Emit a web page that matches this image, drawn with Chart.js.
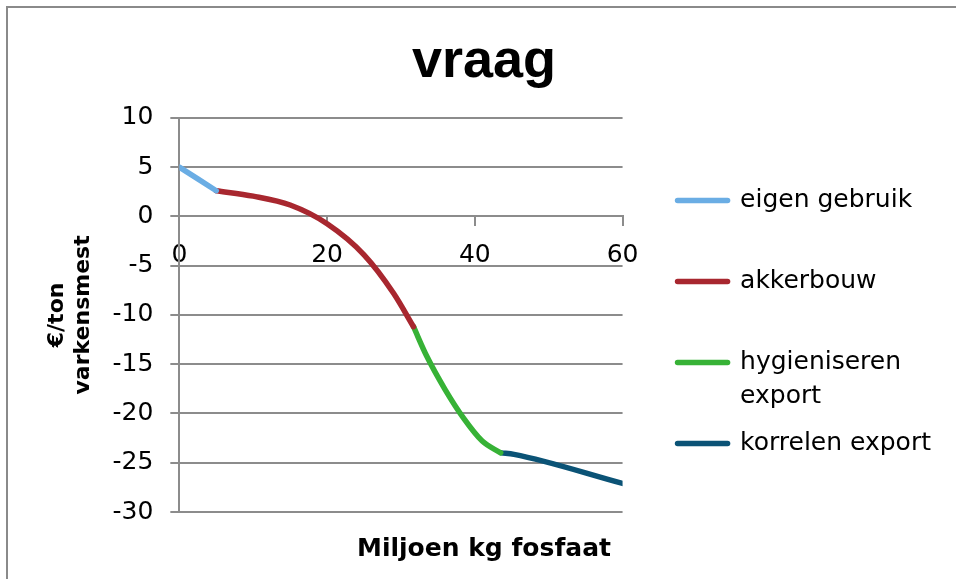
<!DOCTYPE html>
<html>
<head>
<meta charset="utf-8">
<script src="https://cdn.jsdelivr.net/npm/chart.js@4.4.1/dist/chart.umd.min.js"></script>
<style>
  body { margin: 0; background: #fff; }
  #frame {
    position: absolute; left: 6px; top: 6px; width: 950px; height: 573px;
    border-left: 2px solid #8a8a8a; border-top: 2px solid #8a8a8a; box-sizing: border-box;
  }
</style>
</head>
<body>
<div id="frame"><canvas id="vraagChart" width="948" height="571"></canvas></div>
<script>
// series (x = miljoen kg fosfaat, y = euro per ton varkensmest)
var eigenX = [0, 5];
var eigenY = [5, 2.6];
var akkerX = [5, 10, 15, 20, 25, 29, 31.7];
var akkerY = [2.6, 2.05, 1.15, -0.75, -3.9, -7.8, -11.2];
var hygX = [31.7, 33.5, 36, 38.5, 41, 43.5];
var hygY = [-11.2, -14.2, -17.6, -20.5, -22.8, -24.0];
var korrelX = [43.6, 45.3, 60];
var korrelY = [-24.0, -24.15, -27.1];

var seriesLabels = ['eigen gebruik', 'akkerbouw', 'hygieniseren export', 'korrelen export'];
var legendLines = [['eigen gebruik', ''], ['akkerbouw', ''], ['hygieniseren', 'export'], ['korrelen export', '']];
var seriesColors = ['#6aade4', '#a8272f', '#37b236', '#0b5376'];

var xTicks = [0, 20, 40, 60];
var yTicks = [10, 5, 0, -5, -10, -15, -20, -25, -30];

var gridColor = '#8c8c8c';

function points(xs, ys) {
    return xs.map(function(x, i) { return {x: x, y: ys[i]}; });
}

function makeSet(i, xs, ys) {
    return {
        label: seriesLabels[i],
        data: points(xs, ys),
        borderColor: seriesColors[i],
        backgroundColor: seriesColors[i],
        borderWidth: 5.5,
        borderCapStyle: 'round',
        pointRadius: 0,
        cubicInterpolationMode: 'monotone',
        fill: false
    };
}

Chart.defaults.color = '#000';
Chart.defaults.font.family = '"DejaVu Sans", Verdana, sans-serif';

var ctx = document.getElementById('vraagChart').getContext('2d');

var chart = new Chart(ctx, {
    type: 'line',
    data: {
        datasets: [
            makeSet(0, eigenX, eigenY),
            makeSet(1, akkerX, akkerY),
            makeSet(2, hygX, hygY),
            makeSet(3, korrelX, korrelY)
        ]
    },
    options: {
        responsive: false,
        animation: false,
        layout: {
            padding: {left: 19, right: 15, top: 0, bottom: 0}
        },
        scales: {
            x: {
                type: 'linear',
                position: {y: 0},
                min: 0,
                max: 60,
                afterBuildTicks: function(s) {
                    s.ticks = xTicks.map(function(v) { return {value: v}; });
                },
                grid: {drawOnChartArea: false, drawTicks: true, tickLength: 9, color: gridColor, lineWidth: 2},
                border: {display: true, color: gridColor, width: 2},
                ticks: {font: {size: 25}, padding: 15, maxRotation: 0}
            },
            y: {
                type: 'linear',
                position: 'left',
                min: -30,
                max: 10,
                afterBuildTicks: function(s) {
                    s.ticks = yTicks.map(function(v) { return {value: v}; });
                },
                grid: {color: gridColor, lineWidth: 2, tickLength: 9},
                border: {color: gridColor, width: 2},
                ticks: {font: {size: 25}, padding: 17},
                title: {
                    display: true,
                    text: ['\u20ac/ton', 'varkensmest'],
                    font: {size: 22, weight: 'bold', lineHeight: 1.15},
                    padding: {top: 18, bottom: 20}
                }
            },
            // empty right axis: keeps the gap between plot and legend
            gap: {
                type: 'linear',
                position: 'right',
                display: true,
                grid: {display: false},
                border: {display: false},
                ticks: {display: false},
                afterFit: function(s) { s.width = 41; }
            }
        },
        plugins: {
            title: {
                display: true,
                text: 'vraag',
                font: {family: '"Liberation Sans", Arial, sans-serif', size: 54, weight: 'bold'},
                padding: {top: 22, bottom: 23}
            },
            subtitle: {
                display: true,
                position: 'bottom',
                text: 'Miljoen kg fosfaat',
                font: {size: 25, weight: 'bold'},
                padding: {top: 22, bottom: 15}
            },
            legend: {
                position: 'right',
                align: 'end',
                fullSize: false,
                maxWidth: 300,
                labels: {
                    font: {size: 25, lineHeight: '33.5px'},
                    usePointStyle: true,
                    pointStyle: 'line',
                    pointStyleWidth: 50,
                    boxWidth: 50,
                    padding: 14,
                    generateLabels: function(c) {
                        var items = Chart.defaults.plugins.legend.labels.generateLabels(c);
                        items.forEach(function(it) {
                            it.text = legendLines[it.datasetIndex];
                            it.lineWidth = 5.5;
                            it.lineCap = 'round';
                        });
                        return items;
                    }
                }
            },
            tooltip: {enabled: false}
        }
    }
});
</script>
</body>
</html>
